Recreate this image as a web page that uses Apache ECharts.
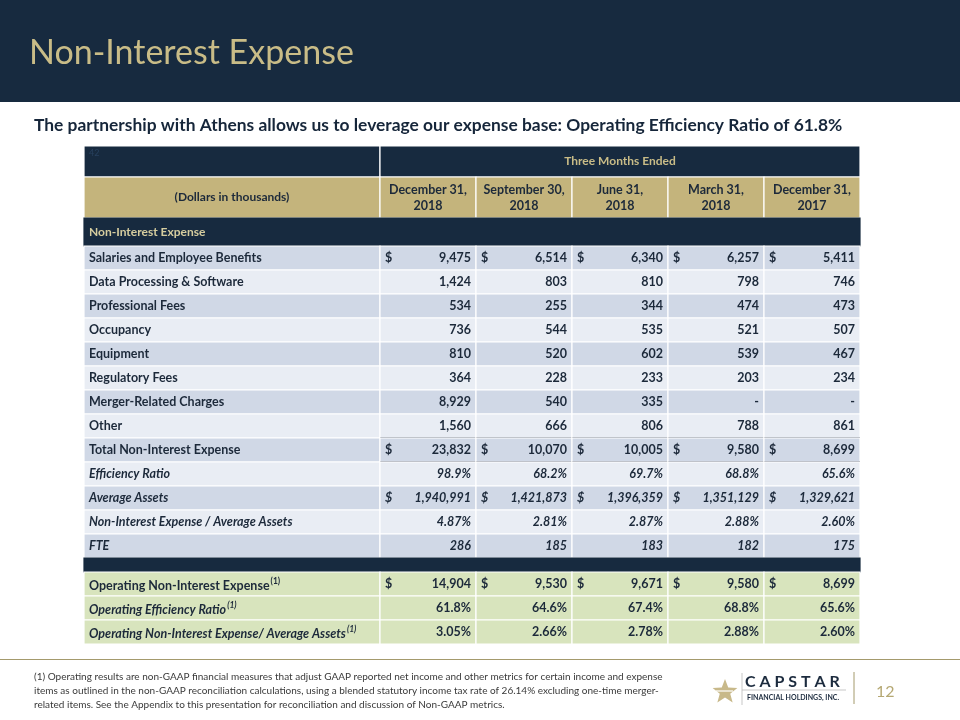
<!DOCTYPE html>
<html>
<head>
<meta charset="utf-8">
<script src="https://cdn.jsdelivr.net/npm/echarts@6/dist/echarts.min.js"></script>
<style>
  html, body { margin: 0; padding: 0; background: #ffffff; }
  #chart { width: 960px; height: 720px; }
</style>
</head>
<body>
<div id="chart"></div>
<script>
// ---------------- DATA ----------------
const titleText = 'Non-Interest Expense';
const subtitleText = 'The partnership with Athens allows us to leverage our expense base: Operating Efficiency Ratio of 61.8%';
const periodHeader = 'Three Months Ended';
const unitsHeader = '(Dollars in thousands)';
const sectionHeader = 'Non-Interest Expense';
const periods = ['December 31,\n2018', 'September 30,\n2018', 'June 31,\n2018', 'March 31,\n2018', 'December 31,\n2017'];

const salaries      = [9475, 6514, 6340, 6257, 5411];
const dataProc      = [1424, 803, 810, 798, 746];
const profFees      = [534, 255, 344, 474, 473];
const occupancy     = [736, 544, 535, 521, 507];
const equipment     = [810, 520, 602, 539, 467];
const regulatory    = [364, 228, 233, 203, 234];
const merger        = [8929, 540, 335, null, null];
const other         = [1560, 666, 806, 788, 861];
const totalNIE      = [23832, 10070, 10005, 9580, 8699];
const efficiency    = [98.9, 68.2, 69.7, 68.8, 65.6];
const avgAssets     = [1940991, 1421873, 1396359, 1351129, 1329621];
const nieToAssets   = [4.87, 2.81, 2.87, 2.88, 2.60];
const fte           = [286, 185, 183, 182, 175];
const opNIE         = [14904, 9530, 9671, 9580, 8699];
const opEfficiency  = [61.8, 64.6, 67.4, 68.8, 65.6];
const opNieToAssets = [3.05, 2.66, 2.78, 2.88, 2.60];

const footnoteLines = [
  '(1) Operating results are non-GAAP financial measures that adjust GAAP reported net income and other metrics for certain income and expense',
  'items as outlined in the non-GAAP reconciliation calculations, using a blended statutory income tax rate of 26.14% excluding one-time merger-',
  'related items. See the Appendix to this presentation for reconciliation and discussion of Non-GAAP metrics.'
];
const pageNumber = '12';

// row definitions: label, values, format, dollar sign, italics, superscript
const mainRows = [
  { label: 'Salaries and Employee Benefits', values: salaries, fmt: 'num', dollar: true },
  { label: 'Data Processing & Software', values: dataProc, fmt: 'num' },
  { label: 'Professional Fees', values: profFees, fmt: 'num' },
  { label: 'Occupancy', values: occupancy, fmt: 'num' },
  { label: 'Equipment', values: equipment, fmt: 'num' },
  { label: 'Regulatory Fees', values: regulatory, fmt: 'num' },
  { label: 'Merger-Related Charges', values: merger, fmt: 'num' },
  { label: 'Other', values: other, fmt: 'num', underline: true },
  { label: 'Total Non-Interest Expense', values: totalNIE, fmt: 'num', dollar: true, underline: true },
  { label: 'Efficiency Ratio', values: efficiency, fmt: 'pct1', italic: true, italicVal: true },
  { label: 'Average Assets', values: avgAssets, fmt: 'num', dollar: true, italic: true, italicVal: true },
  { label: 'Non-Interest Expense / Average Assets', values: nieToAssets, fmt: 'pct2', italic: true, italicVal: true },
  { label: 'FTE', values: fte, fmt: 'num', italic: true, italicVal: true }
];
const opRows = [
  { label: 'Operating Non-Interest Expense', values: opNIE, fmt: 'num', dollar: true, sup: '(1)' },
  { label: 'Operating Efficiency Ratio', values: opEfficiency, fmt: 'pct1', italic: true, sup: '(1)' },
  { label: 'Operating Non-Interest Expense/ Average Assets', values: opNieToAssets, fmt: 'pct2', italic: true, sup: '(1)' }
];

// ---------------- STYLE / LAYOUT ----------------
const NAVY = '#172a3f';
const TAN = '#c4b47c';
const TITLE_TAN = '#c9bc87';
const ROW_DARK = '#d0d8e6';
const ROW_LIGHT = '#e9edf4';
const ROW_GREEN = '#d8e4bd';
const TEXT = '#1c293a';
const FONT = 'Lato';

const colWidths = [296, 96, 96, 96, 96, 96];
const colLeft = [];
{ let acc = 0; colWidths.forEach(w => { colLeft.push(acc); acc += w; }); }
const tableWidth = colWidths.reduce((a, b) => a + b, 0);

// row heights (layout only)
const rowHeights = [31, 41, 28]
  .concat(mainRows.map(() => 24))
  .concat([14])
  .concat(opRows.map(() => 24));
const rowTop = [];
{ let acc = 0; rowHeights.forEach(h => { rowTop.push(acc); acc += h; }); }
const tableHeight = rowHeights.reduce((a, b) => a + b, 0);

function fmtVal(v, fmt) {
  if (v === null || v === undefined) return '-';
  if (fmt === 'pct1') return v.toFixed(1) + '%';
  if (fmt === 'pct2') return v.toFixed(2) + '%';
  return v.toLocaleString('en-US');
}

// ---------------- CELLS ----------------
const cells = [];
function addCell(c0, c1, r, spec) {
  cells.push(Object.assign({
    value: [colLeft[c0] + (colLeft[c1] + colWidths[c1] - colLeft[c0]) / 2, rowTop[r] + rowHeights[r] / 2],
    x0: colLeft[c0], x1: colLeft[c1] + colWidths[c1], y0: rowTop[r], y1: rowTop[r] + rowHeights[r]
  }, spec));
}
// header row 0
addCell(0, 0, 0, { fill: NAVY, text: '42', align: 'left', color: '#27405e', size: 9, vpos: 'top' });
addCell(1, 5, 0, { fill: NAVY, text: periodHeader, align: 'center', color: TITLE_TAN, size: 12, weight: 'bold' });
// header row 1
addCell(0, 0, 1, { fill: TAN, text: unitsHeader, align: 'center', color: TEXT, size: 12, weight: 'bold' });
periods.forEach((p, i) => addCell(i + 1, i + 1, 1, { fill: TAN, text: p, align: 'center', color: TEXT, size: 12.5, weight: 'bold', lineHeight: 16 }));
// section row
addCell(0, 5, 2, { fill: NAVY, stroke: NAVY, text: sectionHeader, align: 'left', color: '#d6cd9f', size: 12, weight: 'bold' });
// main rows
mainRows.forEach((row, i) => {
  const r = 3 + i;
  const fill = i % 2 === 0 ? ROW_DARK : ROW_LIGHT;
  addCell(0, 0, r, { fill, text: row.label, align: 'left', color: TEXT, size: 12.5, weight: 'bold', italic: row.italic });
  row.values.forEach((v, j) => {
    addCell(j + 1, j + 1, r, {
      fill, text: fmtVal(v, row.fmt), align: 'right', color: TEXT, size: 12.5, weight: 'bold',
      italic: row.italicVal, dollar: row.dollar, underline: row.underline
    });
  });
});
// separator
const sepRow = 3 + mainRows.length;
addCell(0, 5, sepRow, { fill: NAVY, stroke: NAVY, text: '' });
// operating rows
opRows.forEach((row, i) => {
  const r = sepRow + 1 + i;
  addCell(0, 0, r, { fill: ROW_GREEN, text: row.label, align: 'left', color: TEXT, size: 12.5, weight: 'bold', italic: row.italic, sup: row.sup });
  row.values.forEach((v, j) => {
    addCell(j + 1, j + 1, r, { fill: ROW_GREEN, text: fmtVal(v, row.fmt), align: 'right', color: TEXT, size: 12.5, weight: 'bold', dollar: row.dollar });
  });
});

function renderCell(params, api) {
  const c = cells[params.dataIndex];
  const p0 = api.coord([c.x0, c.y0]);
  const p1 = api.coord([c.x1, c.y1]);
  const x = p0[0], y = p0[1], w = p1[0] - p0[0], h = p1[1] - p0[1];
  const children = [{
    type: 'rect',
    shape: { x, y, width: w, height: h },
    style: { fill: c.fill, stroke: c.stroke || '#ffffff', lineWidth: 1.2 }
  }];
  const fontStyle = c.italic ? 'italic' : 'normal';
  if (c.text) {
    let tx = x + w / 2, align = 'center';
    if (c.align === 'left') { tx = x + 5; align = 'left'; }
    if (c.align === 'right') { tx = x + w - 5; align = 'right'; }
    let ty = y + h / 2, va = 'middle';
    if (c.vpos === 'top') { ty = y + 3; va = 'top'; }
    const style = {
      x: tx, y: ty, align, verticalAlign: va, fill: c.color,
      fontFamily: FONT, fontSize: c.size, fontWeight: c.weight || 'normal', fontStyle
    };
    if (c.lineHeight) style.lineHeight = c.lineHeight;
    if (c.sup) {
      style.text = '{m|' + c.text + '}{s|' + c.sup + '}';
      style.rich = {
        m: { fontFamily: FONT, fontSize: c.size, fontWeight: 'bold', fontStyle, fill: c.color, verticalAlign: 'bottom', lineHeight: 16 },
        s: { fontFamily: FONT, fontSize: 8.5, fontWeight: 'bold', fontStyle, fill: c.color, verticalAlign: 'top', lineHeight: 16, padding: [1, 0, 0, 1] }
      };
    } else {
      style.text = c.text;
    }
    children.push({ type: 'text', style });
  }
  if (c.dollar) {
    children.push({
      type: 'text',
      style: { x: x + 5, y: y + h / 2, align: 'left', verticalAlign: 'middle', text: '$', fill: c.color,
        fontFamily: FONT, fontSize: c.size, fontWeight: 'bold', fontStyle }
    });
  }
  if (c.underline) {
    children.push({
      type: 'line',
      shape: { x1: x, y1: y + h, x2: x + w, y2: y + h },
      style: { stroke: '#5b6373', lineWidth: 1.5 }
    });
  }
  return { type: 'group', children };
}

// star polygon for logo (decoration)
function starPoints(cx, cy, R, r) {
  const pts = [];
  for (let i = 0; i < 10; i++) {
    const ang = -Math.PI / 2 + i * Math.PI / 5;
    const rad = i % 2 === 0 ? R : r;
    pts.push([cx + rad * Math.cos(ang), cy + rad * Math.sin(ang)]);
  }
  return pts;
}

const chart = echarts.init(document.getElementById('chart'), null, { renderer: 'canvas' });
chart.setOption({
  backgroundColor: '#ffffff',
  animation: false,
  grid: { left: 84, top: 146, width: tableWidth, height: tableHeight, containLabel: false, show: false },
  xAxis: { type: 'value', min: 0, max: tableWidth, show: false },
  yAxis: { type: 'value', min: 0, max: tableHeight, inverse: true, show: false },
  graphic: [
    { type: 'rect', z: 0, shape: { x: 0, y: 0, width: 960, height: 102 }, style: { fill: NAVY } },
    { type: 'text', z: 1, style: { x: 29, y: 53, text: titleText, fill: TITLE_TAN, fontFamily: FONT, fontSize: 34, verticalAlign: 'middle' } },
    { type: 'text', style: { x: 34, y: 125, text: subtitleText, fill: '#16263a', fontFamily: FONT, fontSize: 17.4, fontWeight: 'bold', verticalAlign: 'middle' } },
    { type: 'line', shape: { x1: 0, y1: 659.5, x2: 960, y2: 659.5 }, style: { stroke: '#a49a6c', lineWidth: 1.2 } },
    { type: 'text', style: { x: 34, y: 677, text: footnoteLines[0], fill: '#3a3a3a', fontFamily: FONT, fontSize: 10, verticalAlign: 'middle' } },
    { type: 'text', style: { x: 34, y: 691, text: footnoteLines[1], fill: '#3a3a3a', fontFamily: FONT, fontSize: 10, verticalAlign: 'middle' } },
    { type: 'text', style: { x: 34, y: 705, text: footnoteLines[2], fill: '#3a3a3a', fontFamily: FONT, fontSize: 10, verticalAlign: 'middle' } },
    // logo
    { type: 'polygon', shape: { points: starPoints(725, 692, 13, 5.5) }, style: { fill: '#c8b98a' } },
    { type: 'line', shape: { x1: 716, y1: 691, x2: 733, y2: 691 }, style: { stroke: '#ffffff', lineWidth: 1.2 } },
    { type: 'line', shape: { x1: 742, y1: 673, x2: 742, y2: 705 }, style: { stroke: '#b9b9b9', lineWidth: 0.8 } },
    { type: 'line', shape: { x1: 742, y1: 690, x2: 846, y2: 690 }, style: { stroke: '#b9b9b9', lineWidth: 0.8 } },
    { type: 'text', style: { x: 745, y: 682, text: 'C A P S T A R', fill: '#1c2b3e', fontFamily: FONT, fontSize: 16, fontWeight: 'bold', verticalAlign: 'middle' } },
    { type: 'text', style: { x: 747, y: 698, text: 'FINANCIAL HOLDINGS, INC.', fill: '#1c2b3e', fontFamily: FONT, fontSize: 7, fontWeight: 'bold', verticalAlign: 'middle' } },
    { type: 'line', shape: { x1: 854, y1: 672, x2: 854, y2: 704 }, style: { stroke: '#a49a6c', lineWidth: 1 } },
    { type: 'text', style: { x: 876, y: 692, text: pageNumber, fill: '#b5a873', fontFamily: FONT, fontSize: 16, verticalAlign: 'middle' } }
  ],
  series: [{
    type: 'custom',
    coordinateSystem: 'cartesian2d',
    renderItem: renderCell,
    data: cells.map(c => c.value),
    clip: false,
    silent: true
  }]
});
</script>
</body>
</html>
